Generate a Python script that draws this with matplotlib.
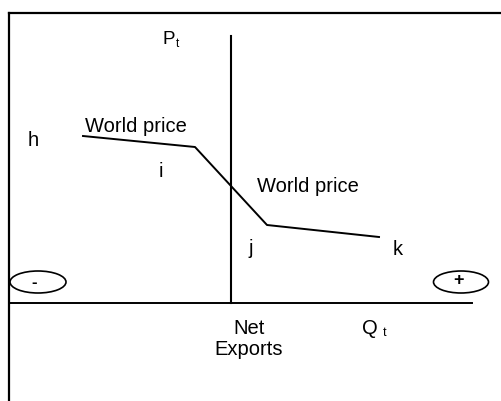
import matplotlib
matplotlib.use("Agg")
import matplotlib.pyplot as plt
from matplotlib.patches import Ellipse

plt.rcParams['font.family'] = ['Liberation Sans', 'DejaVu Sans']

# excess supply curve (net exports vs price), origin at axis crossing
curve_x = [-148, -36, 36, 148]
curve_y = [167, 156, 78, 66]

# point labels along the curve
point_labels = ["h", "i", "j", "k"]
point_x = [-203, -72, 17, 162]
point_y = [157, 126, 49, 48]

price_labels = ["World price", "World price"]
price_x = [-146, 26]
price_y = [171, 111]

fig = plt.figure(figsize=(5.01, 4.01), dpi=100)
ax = fig.add_axes([0, 0, 1, 1])
ax.set_xlim(-231, 270)
ax.set_ylim(-98, 303)
ax.axis('off')

# outer frame (only top and left visible)
ax.plot([-222, -222], [-98, 290.5], color='black', lw=1.6, solid_capstyle='projecting')
ax.plot([-222, 270], [290.5, 290.5], color='black', lw=1.6, solid_capstyle='projecting')

# axes
ax.plot([-222, 241], [0, 0], color='black', lw=1.4)
ax.plot([0, 0], [0, 267], color='black', lw=1.5)

# curve
ax.plot(curve_x, curve_y, color='black', lw=1.4)

fs = 14.5
for lab, x, y in zip(point_labels, point_x, point_y):
    ax.text(x, y, lab, fontsize=fs, ha='left', va='baseline')
for lab, x, y in zip(price_labels, price_x, price_y):
    ax.text(x, y, lab, fontsize=fs, ha='left', va='baseline')

# axis labels
ax.text(-69, 259, "P", fontsize=13.5, ha='left', va='baseline')
ax.text(-55, 256, "t", fontsize=8.5, ha='left', va='baseline')
ax.text(131, -31, "Q", fontsize=fs, ha='left', va='baseline')
ax.text(152, -33, "t", fontsize=9, ha='left', va='baseline')
ax.text(18, -31, "Net", fontsize=fs, ha='center', va='baseline')
ax.text(18, -52, "Exports", fontsize=fs, ha='center', va='baseline')

# sign ovals
ax.add_patch(Ellipse((-193, 21), 56, 22, fill=False, ec='black', lw=1.2))
ax.add_patch(Ellipse((230, 21), 55, 22, fill=False, ec='black', lw=1.2))
ax.text(-197, 21, "-", fontsize=12, fontweight='bold', ha='center', va='center')
ax.text(228, 22, "+", fontsize=13, fontweight='bold', ha='center', va='center')

fig.savefig("out.png", dpi=100)
